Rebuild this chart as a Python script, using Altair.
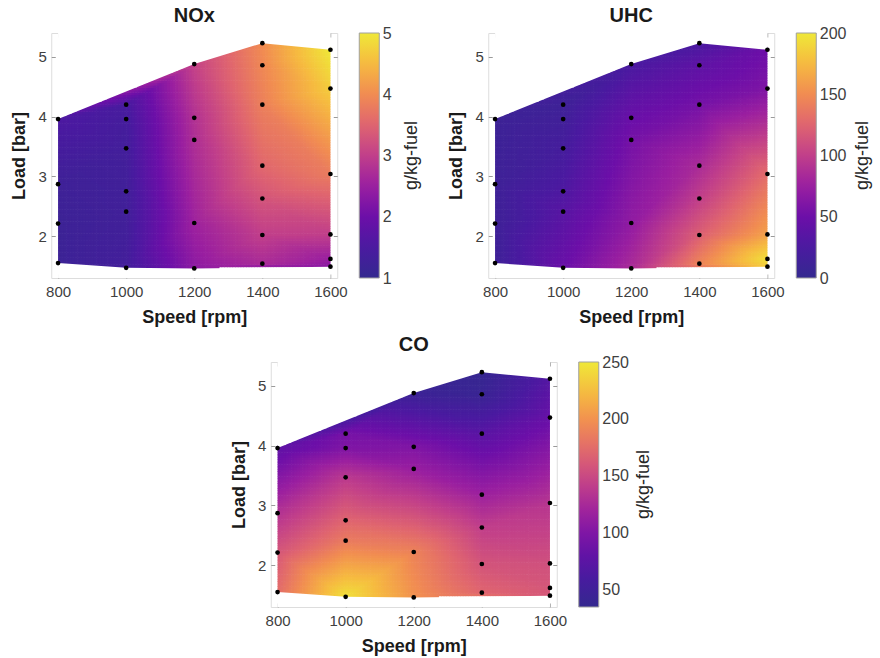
import numpy as np
import pandas as pd
import altair as alt

# Operating points: engine speed [rpm] and load [bar]
speed = [800] * 4 + [1000] * 6 + [1200] * 5 + [1400] * 7 + [1600] * 6
load = [1.55, 2.21, 2.87, 3.96,
        1.47, 2.41, 2.75, 3.47, 3.96, 4.20,
        1.46, 2.22, 3.61, 3.98, 4.88,
        1.54, 2.02, 2.63, 3.18, 4.20, 4.86, 5.23,
        1.49, 1.62, 2.03, 3.04, 4.47, 5.12]

# Specific emissions at each operating point [g/kg-fuel]
nox = [1.20, 1.20, 1.25, 1.55,
       1.35, 1.30, 1.30, 1.35, 1.40, 1.45,
       2.35, 2.55, 2.75, 2.80, 3.05,
       2.70, 3.00, 3.30, 3.55, 3.85, 3.95, 4.00,
       2.30, 2.50, 3.00, 3.80, 4.70, 5.00]
uhc = [12, 12, 12, 10,
       48, 35, 28, 20, 15, 12,
       85, 70, 55, 48, 25,
       145, 122, 100, 85, 55, 40, 25,
       185, 195, 162, 130, 60, 50]
co = [175, 160, 132, 78,
      245, 185, 170, 138, 100, 95,
      200, 190, 115, 100, 45,
      170, 158, 142, 117, 74, 42, 38,
      160, 160, 155, 135, 85, 70]

x_ticks = [800, 1000, 1200, 1400, 1600]
y_ticks = [2, 3, 4, 5]
X_DOMAIN = [780, 1620]
Y_DOMAIN = [1.3, 5.4]
FONT = "Liberation Sans"
W, H = 286, 245
BAR_OFFSET, BAR_WIDTH = 22, 20

colormap = ["#34298f", "#4a1aa0", "#6c0fa8", "#9a1fa0", "#c13f8a",
            "#df6470", "#f18c52", "#f6ba40", "#efe838"]

sx = np.array(speed, float)
sy = np.array(load, float)


def norm(x, y):
    return (x - 800.0) / 800.0, (y - 1.4) / 4.0


def delaunay(pts):
    """Bowyer-Watson triangulation of a small point set."""
    n = len(pts)
    P = np.vstack([pts, [[-1e3, -1e3], [3e3, -1e3], [-1e3, 3e3]]])
    tris = [(n, n + 1, n + 2)]

    def circ(t):
        a, b, c = P[t[0]], P[t[1]], P[t[2]]
        d = 2 * (a[0] * (b[1] - c[1]) + b[0] * (c[1] - a[1]) + c[0] * (a[1] - b[1]))
        if abs(d) < 1e-14:
            return None
        aa, bb, cc = a @ a, b @ b, c @ c
        ux = (aa * (b[1] - c[1]) + bb * (c[1] - a[1]) + cc * (a[1] - b[1])) / d
        uy = (aa * (c[0] - b[0]) + bb * (a[0] - c[0]) + cc * (b[0] - a[0])) / d
        return ux, uy, (a[0] - ux) ** 2 + (a[1] - uy) ** 2

    for i in range(n):
        p = P[i]
        bad = []
        for t in tris:
            c = circ(t)
            if c is None or (p[0] - c[0]) ** 2 + (p[1] - c[1]) ** 2 < c[2]:
                bad.append(t)
        edges = {}
        for t in bad:
            for e in ((t[0], t[1]), (t[1], t[2]), (t[2], t[0])):
                k = tuple(sorted(e))
                edges[k] = edges.get(k, 0) + 1
        tris = [t for t in tris if t not in bad]
        for (a, b), cnt in edges.items():
            if cnt == 1:
                tris.append((a, b, i))
    return [t for t in tris if max(t) < n]


nx_, ny_ = norm(sx, sy)
triangles = delaunay(np.column_stack([nx_, ny_]))

# Raster of cells on which the triangulated surface is shaded
NX, NY = 100, 96
DX, DY = 800.0 / NX, 0.04
gx0 = 800.0 + DX * np.arange(NX)
gy0 = 1.44 + DY * np.arange(NY)
GX, GY = np.meshgrid(gx0 + DX / 2, gy0 + DY / 2)
GXn, GYn = norm(GX, GY)


def surface(values):
    v = np.array(values, float)
    out = np.full(GX.shape, np.nan)
    best = np.full(GX.shape, -np.inf)
    for i, j, k in triangles:
        x1, y1, x2, y2, x3, y3 = nx_[i], ny_[i], nx_[j], ny_[j], nx_[k], ny_[k]
        det = (y2 - y3) * (x1 - x3) + (x3 - x2) * (y1 - y3)
        if abs(det) < 1e-14:
            continue
        l1 = ((y2 - y3) * (GXn - x3) + (x3 - x2) * (GYn - y3)) / det
        l2 = ((y3 - y1) * (GXn - x3) + (x1 - x3) * (GYn - y3)) / det
        l3 = 1 - l1 - l2
        m = np.minimum(np.minimum(l1, l2), l3)
        better = m > best
        out[better] = (l1 * v[i] + l2 * v[j] + l3 * v[k])[better]
        best[better] = m[better]
    keep = best >= -0.06
    X0 = np.broadcast_to(gx0, GX.shape)[keep]
    Y0 = np.broadcast_to(gy0[:, None], GX.shape)[keep]
    return pd.DataFrame({
        "x": X0.round(2),
        "x2": np.minimum(X0 + DX * 1.25, 1600).round(2),
        "y": Y0.round(3),
        "y2": (Y0 + DY * 1.25).round(3),
        "v": out[keep].round(3),
    })


def chain(xs, ys, upper):
    """Upper or lower convex chain of the per-speed extreme loads."""
    pts = []
    for x in sorted(set(xs)):
        yy = [y for xx, y in zip(xs, ys) if xx == x]
        pts.append((x, max(yy) if upper else min(yy)))
    hull = []
    for p in pts:
        while len(hull) >= 2:
            (ax, ay), (bx, by) = hull[-2], hull[-1]
            cr = (bx - ax) * ((p[1] - ay) / 4.0) - ((by - ay) / 4.0) * (p[0] - ax)
            if (upper and cr >= 0) or (not upper and cr <= 0):
                hull.pop()
            else:
                break
        hull.append(p)
    return pd.DataFrame(hull, columns=["x", "y"])


top_edge = chain(speed, load, True)
bottom_edge = chain(speed, load, False)
points = pd.DataFrame({"speed": speed, "load": load})
unit_label = pd.DataFrame({"t": ["g/kg-fuel"]})

xs = alt.Scale(domain=X_DOMAIN, nice=False, zero=False)
ys = alt.Scale(domain=Y_DOMAIN, nice=False, zero=False)

tick_style = dict(domain=False, grid=False, ticks=True, tickSize=4, offset=-4,
                  tickColor="#9a9a9a", tickWidth=1)

x_bottom = alt.Axis(values=x_ticks, format="d", title="Speed [rpm]", labelFontSize=15,
                    labelColor="#404040", labelFont=FONT, labelPadding=6, titleFont=FONT,
                    titleFontSize=18, titleFontWeight="bold", titleColor="#1a1a1a",
                    titlePadding=9, **tick_style)
y_left = alt.Axis(values=y_ticks, title="Load [bar]", labelFontSize=15, labelColor="#404040",
                  labelFont=FONT, labelPadding=5, titleFont=FONT, titleFontSize=18,
                  titleFontWeight="bold", titleColor="#1a1a1a", titlePadding=9, **tick_style)
x_top = alt.Axis(values=x_ticks, orient="top", labels=False, title=None, **tick_style)
y_right = alt.Axis(values=y_ticks, orient="right", labels=False, title=None, **tick_style)


def panel(name, values, domain, ticks, unit_x):
    grid = surface(values)
    surf = alt.Chart(grid).mark_rect(strokeWidth=0, opacity=1).encode(
        x=alt.X("x:Q", scale=xs, axis=x_bottom),
        x2="x2:Q",
        y=alt.Y("y:Q", scale=ys, axis=y_left),
        y2="y2:Q",
        color=alt.Color("v:Q",
                        scale=alt.Scale(domain=domain, range=colormap, interpolate="rgb",
                                        clamp=True, nice=False, zero=False),
                        legend=alt.Legend(
                            title=None, values=ticks, gradientLength=H,
                            gradientThickness=BAR_WIDTH, gradientStrokeColor="#a0a0a0",
                            gradientStrokeWidth=1, labelExpr="''", labelFontSize=1,
                            direction="vertical",
                            orient="none", legendX=W + BAR_OFFSET, legendY=0)),
    )
    upper_mask = alt.Chart(top_edge).mark_area(color="white", opacity=1, interpolate="linear").encode(
        x=alt.X("x:Q", scale=xs, axis=None),
        y=alt.Y("y:Q", scale=ys, axis=None),
        y2=alt.datum(Y_DOMAIN[1]),
    )
    lower_mask = alt.Chart(bottom_edge).mark_area(color="white", opacity=1, interpolate="linear").encode(
        x=alt.X("x:Q", scale=xs, axis=None),
        y=alt.Y("y:Q", scale=ys, axis=None),
        y2=alt.datum(Y_DOMAIN[0]),
    )
    dots = alt.Chart(points).mark_circle(size=22, color="black", opacity=1).encode(
        x=alt.X("speed:Q", scale=xs, axis=x_top),
        y=alt.Y("load:Q", scale=ys, axis=y_right),
    )
    # tick labels of the colour bar, on an axis that shares the colour domain
    bar_labels = alt.Chart(pd.DataFrame({"c": ticks})).mark_point(opacity=0).encode(
        y=alt.Y("c:Q", scale=alt.Scale(domain=domain, nice=False, zero=False),
                axis=alt.Axis(values=ticks, orient="right", offset=BAR_OFFSET + BAR_WIDTH,
                              domain=False, ticks=False, grid=False, title=None,
                              labelFont=FONT, labelFontSize=16, labelColor="#404040",
                              labelPadding=3, labelFlush=False)),
    )
    unit = alt.Chart(unit_label).mark_text(
        angle=270, font=FONT, fontSize=18, color="#262626", align="center", baseline="middle"
    ).encode(x=alt.value(unit_x), y=alt.value(H / 2), text="t:N")
    return alt.layer(surf, upper_mask, lower_mask, dots, bar_labels, unit).resolve_scale(
        y="independent"
    ).resolve_axis(
        x="independent", y="independent"
    ).properties(
        width=W, height=H,
        title=alt.Title(name, font=FONT, fontSize=20, fontWeight="bold", color="#1a1a1a",
                        frame="group", anchor="middle", offset=-1),
    )


p_nox = panel("NOx", nox, [1, 5], [1, 2, 3, 4, 5], 361)
p_uhc = panel("UHC", uhc, [0, 200], [0, 50, 100, 150, 200], 375)
p_co = panel("CO", co, [35, 250], [50, 100, 150, 200, 250], 373)

row = alt.hconcat(p_nox, p_uhc, spacing=25).resolve_scale(color="independent")
chart = alt.vconcat(row, p_co, spacing=7, center=True).resolve_scale(
    color="independent"
).properties(
    padding={"left": 10, "top": 5, "right": 0, "bottom": 0}
).configure_view(
    stroke="#a6a6a6", strokeWidth=1
).configure(background="white")

chart.save("out.html", embed_options={"renderer": "svg", "actions": False})
